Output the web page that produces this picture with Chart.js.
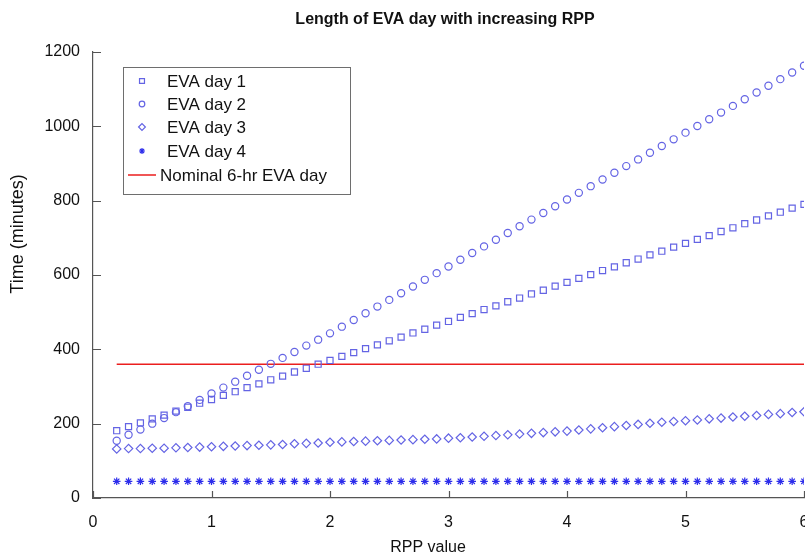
<!DOCTYPE html>
<html>
<head>
<meta charset="utf-8">
<script src="https://cdn.jsdelivr.net/npm/chart.js@4.4.1/dist/chart.umd.min.js"></script>
<style>
  html, body { margin: 0; padding: 0; background: #fff; }
  #wrap { width: 805px; height: 558px; }
</style>
</head>
<body>
<div id="wrap"><canvas id="chart" width="805" height="558"></canvas></div>
<script>
// RPP values along the x axis
const rppValues = [
  0.2, 0.3, 0.4, 0.5, 0.6, 0.7, 0.8, 0.9, 1.0,
  1.1, 1.2, 1.3, 1.4, 1.5, 1.6, 1.7, 1.8, 1.9, 2.0,
  2.1, 2.2, 2.3, 2.4, 2.5, 2.6, 2.7, 2.8, 2.9, 3.0,
  3.1, 3.2, 3.3, 3.4, 3.5, 3.6, 3.7, 3.8, 3.9, 4.0,
  4.1, 4.2, 4.3, 4.4, 4.5, 4.6, 4.7, 4.8, 4.9, 5.0,
  5.1, 5.2, 5.3, 5.4, 5.5, 5.6, 5.7, 5.8, 5.9, 6.0
];

// time in minutes
const evaDay1 = [
  181, 192, 202, 213, 223, 234, 244, 255, 265,
  276, 286, 297, 307, 318, 328, 339, 349, 360, 370,
  381, 391, 402, 412, 423, 433, 444, 454, 465, 475,
  486, 496, 507, 517, 528, 538, 549, 559, 570, 580,
  591, 601, 612, 622, 633, 643, 654, 664, 675, 685,
  696, 706, 717, 727, 738, 748, 759, 769, 780, 790
];
const evaDay2 = [
  154, 170, 184, 200, 215, 231, 247, 264, 281,
  297, 313, 329, 345, 361, 377, 393, 410, 426, 443,
  461, 479, 497, 515, 533, 551, 569, 587, 605, 623,
  641, 659, 677, 695, 713, 731, 749, 767, 785, 803,
  821, 839, 857, 875, 893, 911, 929, 947, 965, 983,
  1001, 1019, 1037, 1055, 1073, 1091, 1109, 1127, 1145, 1163
];
const evaDay3 = [
  132, 133, 133, 134, 134, 135, 136, 137, 138,
  139, 140, 141, 142, 143, 144, 146, 147, 148, 150,
  151, 152, 153, 154, 155, 156, 157, 158, 159, 161,
  162, 164, 166, 168, 170, 172, 174, 176, 178, 180,
  183, 186, 189, 192, 195, 198, 201, 204, 206, 208,
  210, 213, 215, 218, 220, 222, 225, 227, 230, 232
];
const evaDay4 = [
  45, 45, 45, 45, 45, 45, 45, 45, 45,
  45, 45, 45, 45, 45, 45, 45, 45, 45, 45,
  45, 45, 45, 45, 45, 45, 45, 45, 45, 45,
  45, 45, 45, 45, 45, 45, 45, 45, 45, 45,
  45, 45, 45, 45, 45, 45, 45, 45, 45, 45,
  45, 45, 45, 45, 45, 45, 45, 45, 45, 45
];
const nominalX = [0.2, 6.0];
const nominalY = [360, 360];

const xTicks = [0, 1, 2, 3, 4, 5, 6];
const yTicks = [0, 200, 400, 600, 800, 1000, 1200];

const seriesNames = ["EVA day 1", "EVA day 2", "EVA day 3", "EVA day 4", "Nominal 6-hr EVA day"];
const chartTitle = "Length of EVA day with increasing RPP";

const markerBlue = "rgb(100, 100, 228)";
const starBlue = "rgb(45, 45, 235)";
const nominalRed = "rgb(235, 30, 30)";
const axisGray = "rgb(85, 85, 85)";
const font = "'Liberation Sans', Arial, sans-serif";

const toPoints = (xs, ys) => xs.map((x, i) => ({ x: x, y: ys[i] }));

const markerSet = (label, ys, style, radius, color) => ({
  label: label,
  data: toPoints(rppValues, ys),
  showLine: false,
  pointStyle: style,
  pointRadius: radius,
  pointHoverRadius: radius,
  pointBorderWidth: 1.2,
  pointBorderColor: color,
  pointBackgroundColor: "rgba(0,0,0,0)",
  borderColor: color,
});

// title, inward tick marks, axis titles and the legend box
const decorations = {
  id: "decorations",
  afterDraw(chart) {
    const { ctx, chartArea } = chart;
    const xs = chart.scales.x;
    const ys = chart.scales.y;
    ctx.save();
    ctx.strokeStyle = axisGray;
    ctx.lineWidth = 1.2;
    ctx.beginPath();
    xTicks.forEach((v) => {
      const px = Math.round(xs.getPixelForValue(v)) + 0.5;
      ctx.moveTo(px, chartArea.bottom);
      ctx.lineTo(px, chartArea.bottom - 7);
    });
    yTicks.forEach((v) => {
      const py = Math.round(ys.getPixelForValue(v)) + 0.5;
      ctx.moveTo(chartArea.left, py);
      ctx.lineTo(chartArea.left + 8, py);
    });
    ctx.stroke();

    ctx.fillStyle = "#111";
    ctx.textAlign = "center";
    ctx.textBaseline = "middle";
    ctx.font = "bold 16px " + font;
    ctx.fillText(chartTitle, chartArea.left + 352, 20);

    // axis titles
    ctx.font = "16px " + font;
    ctx.fillText("RPP value", chartArea.left + 335, chartArea.bottom + 50);
    ctx.save();
    ctx.font = "18px " + font;
    ctx.translate(18, chartArea.top + 182);
    ctx.rotate(-Math.PI / 2);
    ctx.fillText("Time (minutes)", 0, 0);
    ctx.restore();

    // legend
    const bx = chartArea.left + 30, by = chartArea.top + 15;
    ctx.fillStyle = "#fff";
    ctx.fillRect(bx, by, 227, 127);
    ctx.strokeStyle = "rgb(110, 110, 110)";
    ctx.lineWidth = 1;
    ctx.strokeRect(bx + 0.5, by + 0.5, 227, 127);
    ctx.font = "17px " + font;
    ctx.textAlign = "left";
    ctx.fillStyle = "#111";
    const rowY = [14, 37, 60, 84, 108];
    chart.data.datasets.forEach((ds, i) => {
      const y = by + rowY[i];
      if (i < 4) {
        ctx.strokeStyle = ds.pointBorderColor;
        ctx.fillStyle = ds.pointBackgroundColor;
        ctx.lineWidth = 1.2;
        Chart.helpers.drawPoint(ctx, {
          pointStyle: ds.pointStyle, radius: ds.pointRadius - 0.8, rotation: 0, borderWidth: 1.2,
        }, bx + 19, y);
        ctx.fillStyle = "#111";
        ctx.fillText(seriesNames[i], bx + 44, y + 1);
      } else {
        ctx.strokeStyle = ds.borderColor;
        ctx.lineWidth = 1.5;
        ctx.beginPath();
        ctx.moveTo(bx + 5, y);
        ctx.lineTo(bx + 33, y);
        ctx.stroke();
        ctx.fillStyle = "#111";
        ctx.fillText(seriesNames[i], bx + 37, y + 1);
      }
    });
    ctx.restore();
  },
};

new Chart(document.getElementById("chart"), {
  type: "scatter",
  data: {
    datasets: [
      markerSet(seriesNames[0], evaDay1, "rect", 4.3, markerBlue),
      markerSet(seriesNames[1], evaDay2, "circle", 3.6, markerBlue),
      markerSet(seriesNames[2], evaDay3, "rectRot", 4.2, markerBlue),
      markerSet(seriesNames[3], evaDay4, "star", 3.8, starBlue),
      {
        label: seriesNames[4],
        type: "line",
        data: toPoints(nominalX, nominalY),
        borderColor: nominalRed,
        borderWidth: 1.5,
        pointRadius: 0,
        fill: false,
      },
    ],
  },
  options: {
    responsive: false,
    animation: false,
    layout: { autoPadding: false, padding: { left: 0, right: 1, top: 52, bottom: 0 } },
    plugins: {
      legend: { display: false },
      tooltip: { enabled: false },
      title: { display: false },
    },
    scales: {
      x: {
        type: "linear",
        min: 0,
        max: 6,
        afterBuildTicks: (scale) => { scale.ticks = xTicks.map((v) => ({ value: v })); },
        afterFit: (scale) => { scale.height = 60; scale.paddingRight = 0; scale.paddingLeft = 0; },
        grid: { display: false, drawTicks: false },
        border: { color: axisGray, width: 1.2 },
        ticks: { color: "#111", padding: 15, font: { family: font, size: 16 } },
      },
      y: {
        min: 0,
        max: 1200,
        afterBuildTicks: (scale) => { scale.ticks = yTicks.map((v) => ({ value: v })); },
        afterFit: (scale) => { scale.width = 93; scale.paddingTop = 0; },
        grid: { display: false, drawTicks: false },
        border: { color: axisGray, width: 1.2 },
        ticks: {
          color: "#111", padding: 13, font: { family: font, size: 16 },
          callback: (value) => String(value),
        },
      },
    },
  },
  plugins: [decorations],
});
</script>
</body>
</html>
